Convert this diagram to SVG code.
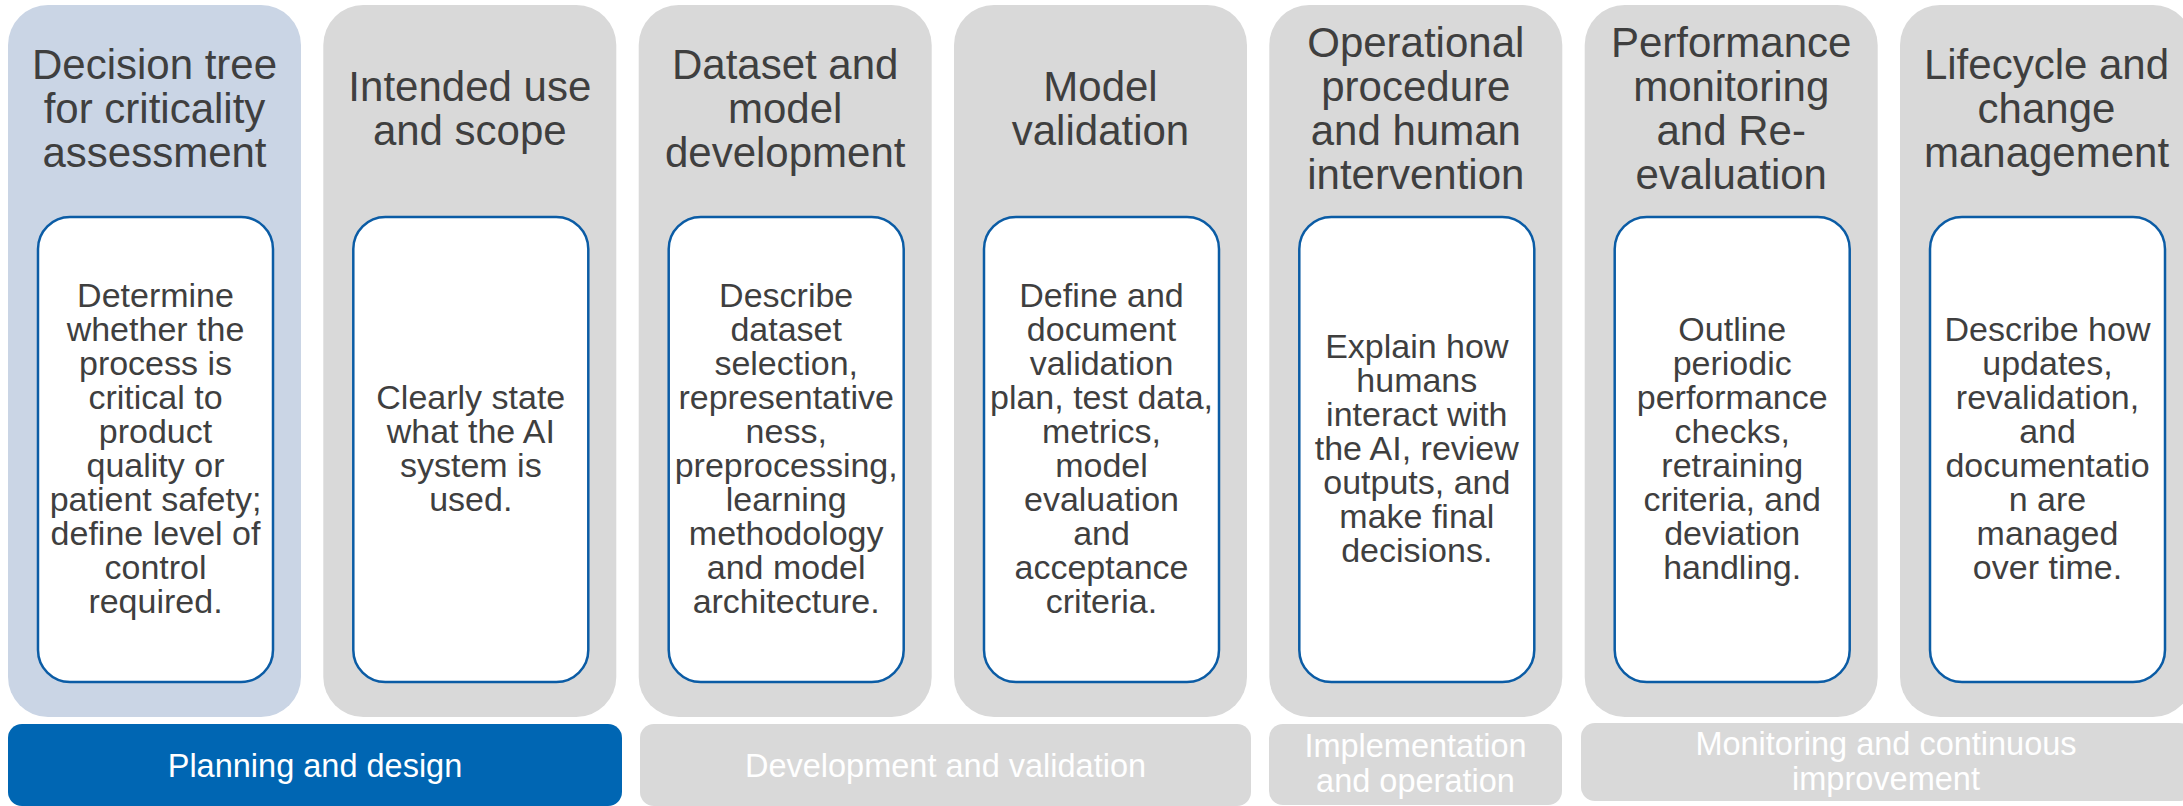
<svg xmlns="http://www.w3.org/2000/svg" width="2183" height="806" viewBox="0 0 2183 806">
<style>
  .col { fill: #D9D9D9; }
  .col1 { fill: #CAD5E5; }
  .card { fill: #FFFFFF; stroke: #0B5CA5; stroke-width: 2.5; }
  text { font-family: "Liberation Sans", Arial, sans-serif; text-anchor: middle; }
  .title { font-size: 42px; fill: #3F3F3F; }
  .desc { font-size: 34px; fill: #3F3F3F; }
  .bar { fill: #D9D9D9; }
  .barBlue { fill: #0066B3; }
  .barText { font-size: 32.5px; fill: #FFFFFF; }
</style>
<rect width="2183" height="806" fill="#FFFFFF"/>

<g id="col-decision-tree">
  <rect class="col1" x="8" y="5" width="293" height="712" rx="40" ry="40"/>
  <text class="title" x="154.5"><tspan x="154.5" y="78.5">Decision tree</tspan><tspan x="154.5" y="122.5">for criticality</tspan><tspan x="154.5" y="166.5">assessment</tspan></text>
  <rect class="card" x="38" y="217" width="235" height="465" rx="32" ry="32"/>
  <text class="desc"><tspan x="155.5" y="307">Determine</tspan><tspan x="155.5" y="341">whether the</tspan><tspan x="155.5" y="375">process is</tspan><tspan x="155.5" y="409">critical to</tspan><tspan x="155.5" y="443">product</tspan><tspan x="155.5" y="477">quality or</tspan><tspan x="155.5" y="511">patient safety;</tspan><tspan x="155.5" y="545">define level of</tspan><tspan x="155.5" y="579">control</tspan><tspan x="155.5" y="613">required.</tspan></text>
</g>

<g id="col-intended-use">
  <rect class="col" x="323.3" y="5" width="293" height="712" rx="40" ry="40"/>
  <text class="title"><tspan x="469.8" y="100.5">Intended use</tspan><tspan x="469.8" y="144.5">and scope</tspan></text>
  <rect class="card" x="353.3" y="217" width="235" height="465" rx="32" ry="32"/>
  <text class="desc"><tspan x="470.8" y="409">Clearly state</tspan><tspan x="470.8" y="443">what the AI</tspan><tspan x="470.8" y="477">system is</tspan><tspan x="470.8" y="511">used.</tspan></text>
</g>

<g id="col-dataset">
  <rect class="col" x="638.7" y="5" width="293" height="712" rx="40" ry="40"/>
  <text class="title"><tspan x="785.2" y="78.5">Dataset and</tspan><tspan x="785.2" y="122.5">model</tspan><tspan x="785.2" y="166.5">development</tspan></text>
  <rect class="card" x="668.7" y="217" width="235" height="465" rx="32" ry="32"/>
  <text class="desc"><tspan x="786.2" y="307">Describe</tspan><tspan x="786.2" y="341">dataset</tspan><tspan x="786.2" y="375">selection,</tspan><tspan x="786.2" y="409">representative</tspan><tspan x="786.2" y="443">ness,</tspan><tspan x="786.2" y="477">preprocessing,</tspan><tspan x="786.2" y="511">learning</tspan><tspan x="786.2" y="545">methodology</tspan><tspan x="786.2" y="579">and model</tspan><tspan x="786.2" y="613">architecture.</tspan></text>
</g>

<g id="col-model-validation">
  <rect class="col" x="954" y="5" width="293" height="712" rx="40" ry="40"/>
  <text class="title"><tspan x="1100.5" y="100.5">Model</tspan><tspan x="1100.5" y="144.5">validation</tspan></text>
  <rect class="card" x="984" y="217" width="235" height="465" rx="32" ry="32"/>
  <text class="desc"><tspan x="1101.5" y="307">Define and</tspan><tspan x="1101.5" y="341">document</tspan><tspan x="1101.5" y="375">validation</tspan><tspan x="1101.5" y="409">plan, test data,</tspan><tspan x="1101.5" y="443">metrics,</tspan><tspan x="1101.5" y="477">model</tspan><tspan x="1101.5" y="511">evaluation</tspan><tspan x="1101.5" y="545">and</tspan><tspan x="1101.5" y="579">acceptance</tspan><tspan x="1101.5" y="613">criteria.</tspan></text>
</g>

<g id="col-operational">
  <rect class="col" x="1269.3" y="5" width="293" height="712" rx="40" ry="40"/>
  <text class="title"><tspan x="1415.8" y="56.5">Operational</tspan><tspan x="1415.8" y="100.5">procedure</tspan><tspan x="1415.8" y="144.5">and human</tspan><tspan x="1415.8" y="188.5">intervention</tspan></text>
  <rect class="card" x="1299.3" y="217" width="235" height="465" rx="32" ry="32"/>
  <text class="desc"><tspan x="1416.8" y="358">Explain how</tspan><tspan x="1416.8" y="392">humans</tspan><tspan x="1416.8" y="426">interact with</tspan><tspan x="1416.8" y="460">the AI, review</tspan><tspan x="1416.8" y="494">outputs, and</tspan><tspan x="1416.8" y="528">make final</tspan><tspan x="1416.8" y="562">decisions.</tspan></text>
</g>

<g id="col-performance">
  <rect class="col" x="1584.7" y="5" width="293" height="712" rx="40" ry="40"/>
  <text class="title"><tspan x="1731.2" y="56.5">Performance</tspan><tspan x="1731.2" y="100.5">monitoring</tspan><tspan x="1731.2" y="144.5">and Re-</tspan><tspan x="1731.2" y="188.5">evaluation</tspan></text>
  <rect class="card" x="1614.7" y="217" width="235" height="465" rx="32" ry="32"/>
  <text class="desc"><tspan x="1732.2" y="341">Outline</tspan><tspan x="1732.2" y="375">periodic</tspan><tspan x="1732.2" y="409">performance</tspan><tspan x="1732.2" y="443">checks,</tspan><tspan x="1732.2" y="477">retraining</tspan><tspan x="1732.2" y="511">criteria, and</tspan><tspan x="1732.2" y="545">deviation</tspan><tspan x="1732.2" y="579">handling.</tspan></text>
</g>

<g id="col-lifecycle">
  <rect class="col" x="1900" y="5" width="293" height="712" rx="40" ry="40"/>
  <text class="title"><tspan x="2046.5" y="78.5">Lifecycle and</tspan><tspan x="2046.5" y="122.5">change</tspan><tspan x="2046.5" y="166.5">management</tspan></text>
  <rect class="card" x="1930" y="217" width="235" height="465" rx="32" ry="32"/>
  <text class="desc"><tspan x="2047.5" y="341">Describe how</tspan><tspan x="2047.5" y="375">updates,</tspan><tspan x="2047.5" y="409">revalidation,</tspan><tspan x="2047.5" y="443">and</tspan><tspan x="2047.5" y="477">documentatio</tspan><tspan x="2047.5" y="511">n are</tspan><tspan x="2047.5" y="545">managed</tspan><tspan x="2047.5" y="579">over time.</tspan></text>
</g>

<g id="phase-planning">
  <rect class="barBlue" x="8" y="724" width="614" height="82" rx="14" ry="14"/>
  <text class="barText" x="315" y="777">Planning and design</text>
</g>
<g id="phase-development">
  <rect class="bar" x="640" y="724" width="611" height="82" rx="14" ry="14"/>
  <text class="barText" x="945.5" y="777">Development and validation</text>
</g>
<g id="phase-implementation">
  <rect class="bar" x="1269" y="724" width="293" height="81" rx="14" ry="14"/>
  <text class="barText"><tspan x="1415.5" y="757">Implementation</tspan><tspan x="1415.5" y="792">and operation</tspan></text>
</g>
<g id="phase-monitoring">
  <rect class="bar" x="1581" y="723" width="612" height="78" rx="14" ry="14"/>
  <text class="barText"><tspan x="1886" y="755">Monitoring and continuous</tspan><tspan x="1886" y="790">improvement</tspan></text>
</g>

<g id="connectors"></g>
</svg>
